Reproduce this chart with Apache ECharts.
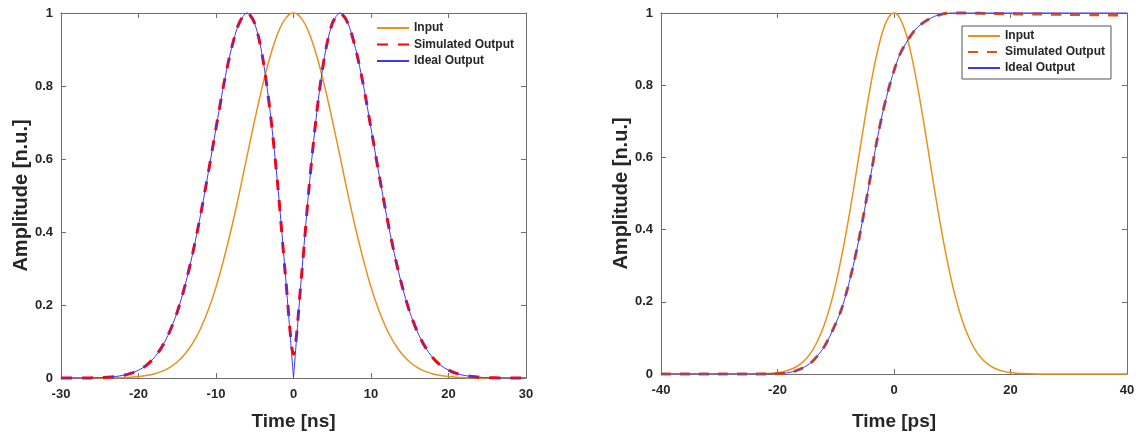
<!DOCTYPE html>
<html><head><meta charset="utf-8">
<script src="https://cdn.jsdelivr.net/npm/echarts@6/dist/echarts.min.js"></script>
<style>html,body{margin:0;padding:0;background:#fff}#c{width:1138px;height:436px}</style>
</head><body><div id="c"></div>
<script>
// ---- Left panel (ns) ----
const tL = [-30,-29,-28,-27,-26,-25,-24,-23,-22,-21,-20,-19,-18,-17,-16,-15,-14,-13,-12,-11,-10,-9,-8,-7,-6,-5,-4,-3,-2,-1,0,1,2,3,4,5,6,7,8,9,10,11,12,13,14,15,16,17,18,19,20,21,22,23,24,25,26,27,28,29,30];
const inputL = [0,0,0,0,0.0001,0.0002,0.0003,0.0006,0.0012,0.0022,0.0039,0.0066,0.0111,0.0181,0.0286,0.0439,0.0657,0.0956,0.135,0.186,0.249,0.325,0.411,0.506,0.607,0.707,0.801,0.882,0.946,0.986,1,0.986,0.946,0.882,0.801,0.707,0.607,0.506,0.411,0.325,0.249,0.186,0.135,0.0956,0.0657,0.0439,0.0286,0.0181,0.0111,0.0066,0.0039,0.0022,0.0012,0.0006,0.0003,0.0002,0.0001,0,0,0,0];
const idealL = [0,0,0,0,0.0005,0.0011,0.0021,0.004,0.0072,0.0127,0.0214,0.0345,0.0549,0.0846,0.126,0.181,0.253,0.342,0.446,0.562,0.684,0.804,0.903,0.973,1.0,0.971,0.880,0.727,0.520,0.271,0,0.271,0.520,0.727,0.880,0.971,1.0,0.973,0.903,0.804,0.684,0.562,0.446,0.342,0.253,0.181,0.126,0.0846,0.0549,0.0345,0.0214,0.0127,0.0072,0.004,0.0021,0.0011,0.0005,0,0,0,0];
const simL = [0,0,0,0,0.0005,0.0011,0.0021,0.004,0.0072,0.0127,0.0214,0.0345,0.0549,0.0846,0.126,0.181,0.253,0.342,0.446,0.562,0.684,0.804,0.903,0.973,1.0,0.971,0.880,0.727,0.520,0.271,0.065,0.271,0.520,0.727,0.880,0.971,1.0,0.973,0.903,0.804,0.684,0.562,0.446,0.342,0.253,0.181,0.126,0.0846,0.0549,0.0345,0.0214,0.0127,0.0072,0.004,0.0021,0.0011,0.0005,0,0,0,0];

// ---- Right panel (ps) ----
const tR = [-40,-35,-30,-25,-22,-21,-20,-19,-18,-17,-16,-15,-14,-13,-12,-11,-10,-9,-8,-7,-6,-5,-4,-3,-2,-1,0,1,2,3,4,5,6,7,8,9,10,11,12,13,14,15,16,17,18,19,20,21,22,25,30,35,40];
const inputR = [0,0,0,0.0002,0.0012,0.0022,0.0039,0.0066,0.0111,0.0181,0.0286,0.0439,0.0657,0.0956,0.135,0.186,0.249,0.325,0.411,0.506,0.607,0.707,0.801,0.882,0.946,0.986,1,0.986,0.946,0.882,0.801,0.707,0.607,0.506,0.411,0.325,0.249,0.186,0.135,0.0956,0.0657,0.0439,0.0286,0.0181,0.0111,0.0066,0.0039,0.0022,0.0012,0.0002,0,0,0];
const idealR = [0,0,0,0,0.0002,0.0005,0.001,0.002,0.004,0.008,0.014,0.023,0.035,0.053,0.075,0.105,0.14,0.18,0.235,0.30,0.375,0.46,0.55,0.64,0.72,0.785,0.84,0.885,0.915,0.94,0.96,0.973,0.983,0.991,0.996,0.999,1,1,1,1,1,1,1,1,1,1,1,1,1,1,1,1,1];
const simR = [0,0,0,0,0.0002,0.0005,0.001,0.002,0.004,0.008,0.014,0.023,0.035,0.053,0.075,0.105,0.14,0.18,0.235,0.30,0.375,0.46,0.55,0.64,0.72,0.785,0.84,0.885,0.915,0.94,0.96,0.973,0.983,0.991,0.996,0.999,1,1,1,0.9995,0.9993,0.999,0.9988,0.9985,0.998,0.998,0.998,0.9975,0.997,0.997,0.996,0.995,0.994];

const yTicks = [0,0.2,0.4,0.6,0.8,1];
const seriesNames = ['Input','Simulated Output','Ideal Output'];

const INPUT_C = '#E8911C', BLUE_C = '#3A3AF5', RED_L = '#FF0000', RED_R = '#D95319';
const FRAME = '#6e6e6e', TXT = '#262626', FONT = '"Liberation Sans", Arial, sans-serif';

function zip(xs, ys){ return xs.map((x,i)=>[x, ys[i]]); }

function xAxes(gi, min, max, interval, name, gap){
  const common = {type:'value', gridIndex:gi, min, max, interval,
    axisLine:{show:true, onZero:false, lineStyle:{color:FRAME, width:1}},
    axisTick:{show:true, inside:true, length:5, lineStyle:{color:FRAME}},
    splitLine:{show:false}};
  return [
    Object.assign({}, common, {position:'bottom', name, nameLocation:'middle', nameGap:gap,
      nameTextStyle:{fontFamily:FONT, fontWeight:'bold', fontSize:19, color:TXT},
      axisLabel:{fontFamily:FONT, fontWeight:'bold', fontSize:13, color:TXT, margin:10}}),
    Object.assign({}, common, {position:'top', axisLabel:{show:false}})
  ];
}
function yAxes(gi, gap){
  const common = {type:'value', gridIndex:gi, min:0, max:1, interval:0.2,
    axisLine:{show:true, onZero:false, lineStyle:{color:FRAME, width:1}},
    axisTick:{show:true, inside:true, length:5, lineStyle:{color:FRAME}},
    splitLine:{show:false}};
  return [
    Object.assign({}, common, {position:'left', name:'Amplitude [n.u.]', nameLocation:'middle', nameGap:gap, nameRotate:90,
      nameTextStyle:{fontFamily:FONT, fontWeight:'bold', fontSize:20, color:TXT},
      axisLabel:{fontFamily:FONT, fontWeight:'bold', fontSize:13, color:TXT, margin:8,
        formatter:v=>{ const m = yTicks.find(t=>Math.abs(t-v)<1e-9); return String(m===undefined?v:m); }}}),
    Object.assign({}, common, {position:'right', axisLabel:{show:false}})
  ];
}

// split ideal left at zero so the V stays sharp
const iz = tL.indexOf(0);
const idealLa = zip(tL, idealL).slice(0, iz+1);
const idealLb = zip(tL, idealL).slice(iz);

const lineBase = {type:'line', symbol:'none', clip:false, animation:false};

const legendCommon = {orient:'vertical', itemWidth:32, itemHeight:13, selectedMode:false,
  itemStyle:{opacity:0, borderWidth:0},
  textStyle:{fontFamily:FONT, fontWeight:'bold', fontSize:12, color:TXT}};

const option = {
  animation:false,
  grid:[
    {left:61, right:612, top:13, bottom:54, show:false},
    {left:661, right:11, top:13, bottom:56, show:false}
  ],
  xAxis:[...xAxes(0,-30,30,10,'Time [ns]',34), ...xAxes(1,-40,40,20,'Time [ps]',38)],
  yAxis:[...yAxes(0,28), ...yAxes(1,30)],
  legend:[
    Object.assign({}, legendCommon, {data:seriesNames.map(n=>({name:n})), left:376, top:22, itemGap:4.5, padding:0}),
    Object.assign({}, legendCommon, {data:seriesNames.map(n=>({name:n+' '})), left:962, top:26, itemGap:4,
      padding:[4,6,5,5], borderColor:'#555', borderWidth:1, backgroundColor:'#fff', formatter:n=>n.trim()})
  ],
  series:[
    Object.assign({}, lineBase, {name:'Input', xAxisIndex:0, yAxisIndex:0, smooth:0.3, data:zip(tL,inputL), lineStyle:{color:INPUT_C, width:1.5}, itemStyle:{color:INPUT_C}}),
    Object.assign({}, lineBase, {name:'Simulated Output', xAxisIndex:0, yAxisIndex:0, smooth:0.3, data:zip(tL,simL), lineStyle:{color:RED_L, width:3, type:[11,10]}, itemStyle:{color:RED_L}}),
    Object.assign({}, lineBase, {name:'Ideal Output', xAxisIndex:0, yAxisIndex:0, smooth:0.3, data:idealLa, lineStyle:{color:BLUE_C, width:1}, itemStyle:{color:BLUE_C}}),
    Object.assign({}, lineBase, {name:'Ideal Output', xAxisIndex:0, yAxisIndex:0, smooth:0.3, data:idealLb, lineStyle:{color:BLUE_C, width:1}, itemStyle:{color:BLUE_C}}),

    Object.assign({}, lineBase, {name:'Input ', xAxisIndex:2, yAxisIndex:2, smooth:0.3, data:zip(tR,inputR), lineStyle:{color:INPUT_C, width:1.5}, itemStyle:{color:INPUT_C}}),
    Object.assign({}, lineBase, {name:'Simulated Output ', xAxisIndex:2, yAxisIndex:2, smooth:0.3, data:zip(tR,simR), lineStyle:{color:RED_R, width:3, type:[10,9]}, itemStyle:{color:RED_R}}),
    Object.assign({}, lineBase, {name:'Ideal Output ', xAxisIndex:2, yAxisIndex:2, smooth:0.3, data:zip(tR,idealR), lineStyle:{color:BLUE_C, width:1}, itemStyle:{color:BLUE_C}})
  ]
};

const chart = echarts.init(document.getElementById('c'), null, {renderer:'canvas'});
chart.setOption(option);
</script></body></html>
